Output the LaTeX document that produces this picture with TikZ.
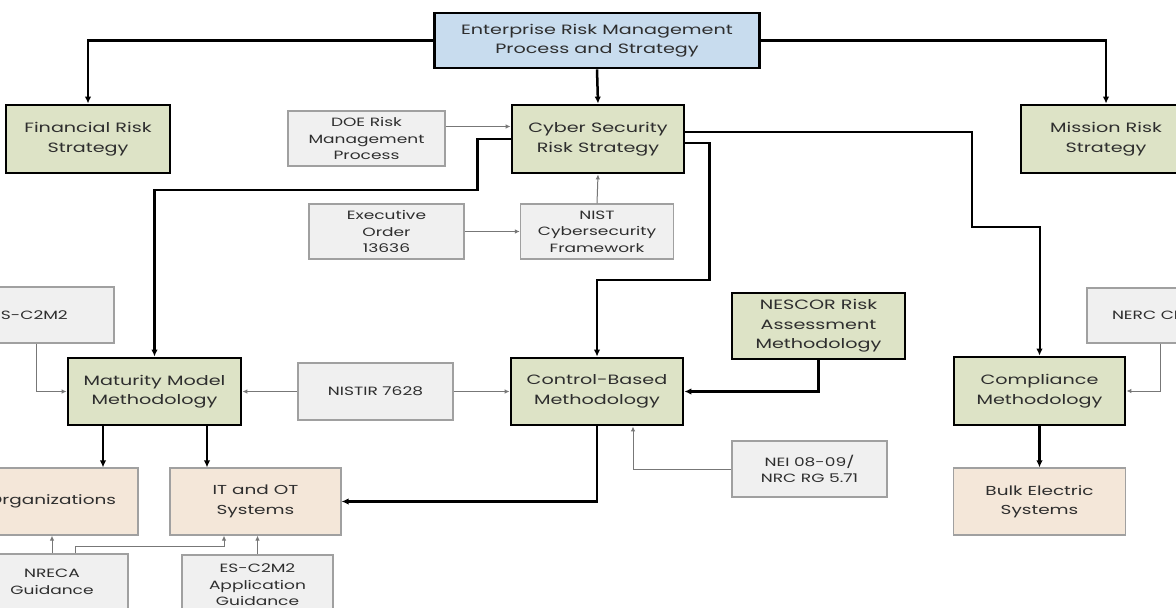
\documentclass[tikz,border=0pt]{standalone}
\usepackage{fontspec}
\setmainfont{Poppins}[FakeStretch=1.42]
\usetikzlibrary{arrows.meta}
\definecolor{bluefill}{HTML}{C8DCEE}
\definecolor{greenfill}{HTML}{DDE3C6}
\definecolor{beigefill}{HTML}{F4E7D9}
\definecolor{greyfill}{HTML}{F0F0F0}
\definecolor{greyline}{HTML}{A0A0A0}
\definecolor{feedline}{HTML}{777777}
\definecolor{txt}{HTML}{2E2E2E}
\begin{document}
\begin{tikzpicture}[x=1pt,y=-1pt,
  every node/.style={text=txt, align=center, inner sep=0pt},
  mainbox/.style={draw=black, line width=2.8pt, fill=greenfill, font=\fontsize{13.5}{19.5}\selectfont},
  topbox/.style={mainbox, fill=bluefill},
  inbox/.style={draw=greyline, line width=1.3pt, fill=greyfill, font=\fontsize{12}{16.5}\selectfont},
  sysbox/.style={draw=greyline, line width=1.2pt, fill=beigefill, font=\fontsize{13}{19.5}\selectfont},
  conn/.style={line width=2.5pt, -{Latex[length=7pt,width=6.5pt]}},
  feed/.style={line width=1pt, draw=feedline, -{Latex[length=5pt,width=4.5pt]}}]
\useasboundingbox (0,0) rectangle (1176,608);
\fill[white] (0,0) rectangle (1176,608);
\clip (0,0) rectangle (1176,608);

% nodes
\node[topbox, minimum width=325, minimum height=55] (top) at (597,40.5) {Enterprise Risk Management\\Process and Strategy};
\node[mainbox, minimum width=164, minimum height=68] (fin) at (88,139) {Financial Risk\\Strategy};
\node[inbox, minimum width=157, minimum height=55] (doe) at (366.5,138.5) {DOE Risk\\Management\\Process};
\node[mainbox, minimum width=172, minimum height=68] (cyber) at (598,139) {Cyber Security\\Risk Strategy};
\node[mainbox, minimum width=170, minimum height=68] (mission) at (1106,139) {Mission Risk\\Strategy};
\node[inbox, minimum width=155, minimum height=55] (exec) at (386.5,231.5) {Executive\\Order\\13636};
\node[inbox, minimum width=153, minimum height=55] (nist) at (597,231.5) {NIST\\Cybersecurity\\Framework};
\node[inbox, minimum width=168, minimum height=56] (esc) at (30,315) {ES-C2M2};
\node[mainbox, minimum width=173, minimum height=66] (nescor) at (818.5,326) {NESCOR Risk\\Assessment\\Methodology};
\node[inbox, minimum width=126, minimum height=55] (nerc) at (1150,315.5) {NERC CIP};
\node[mainbox, minimum width=173, minimum height=67] (mat) at (154.5,391.5) {Maturity Model\\Methodology};
\node[inbox, minimum width=155, minimum height=57] (nistir) at (375.5,391.5) {NISTIR 7628};
\node[mainbox, minimum width=172, minimum height=67] (ctrl) at (597,391.5) {Control-Based\\Methodology};
\node[mainbox, minimum width=171, minimum height=68] (comp) at (1039.5,391) {Compliance\\Methodology};
\node[inbox, minimum width=155, minimum height=56] (nei) at (809.5,469) {NEI 08-09/\\NRC RG 5.71};
\node[sysbox, minimum width=172, minimum height=67] (org) at (52,501.5) {Organizations};
\node[sysbox, minimum width=171, minimum height=67] (it) at (255.5,501.5) {IT and OT\\Systems};
\node[sysbox, minimum width=172, minimum height=67] (bulk) at (1039.5,501.5) {Bulk Electric\\Systems};
\node[inbox, minimum width=152, minimum height=56] (nreca) at (52,582) {NRECA\\Guidance};
\node[inbox, minimum width=151, minimum height=60] (esapp) at (257.5,585) {ES-C2M2\\Application\\Guidance};

% helper coordinates
\coordinate (doeA) at ([yshift=12pt]doe.east);
\coordinate (cybR1) at ([yshift=7pt]cyber.east);
\coordinate (cybR2) at ([yshift=-4pt]cyber.east);
\coordinate (escB) at ([xshift=6pt]esc.south);
\coordinate (nercB) at ([xshift=10pt]nerc.south);
\coordinate (ctrlB) at ([xshift=36pt]ctrl.south);
\coordinate (matL) at ([xshift=-51.5pt]mat.south);
\coordinate (matR) at ([xshift=52.5pt]mat.south);
\coordinate (itB) at ([xshift=-31.5pt]it.south);
\coordinate (nrecaR) at ([xshift=23pt]nreca.north);

% main connectors
\draw[conn] (top.west) -| (fin.north);
\draw[conn] (top.east) -| (mission.north);
\draw[conn] (top.south) -- (cyber.north);
\draw[conn] (cyber.west) -- ++(-33,0) -- ++(0,51) -| (mat.north);
\draw[conn] (cybR2) -- ++(24,0) -- ++(0,137) -| (ctrl.north);
\draw[conn, line width=2pt] (cybR1) -- ++(287,0) -- ++(0,95) -| (comp.north);
\draw[conn] (nescor.south) |- (ctrl.east);
\draw[conn] (ctrl.south) |- (it.east);
\draw[conn] (matL) -- (matL |- org.north);
\draw[conn] (matR) -- (matR |- it.north);
\draw[conn] (comp.south) -- (bulk.north);

% feed connectors
\draw[feed] (doeA) -- (doeA -| cyber.west);
\draw[feed] (exec.east) -- (nist.west);
\draw[feed] (nist.north) -- (cyber.south);
\draw[feed] (escB) |- (mat.west);
\draw[feed] (nistir.west) -- (mat.east);
\draw[feed] (nistir.east) -- (ctrl.west);
\draw[feed] (nercB) |- (comp.east);
\draw[feed] (nei.west) -| (ctrlB);
\draw[feed] (nreca.north) -- (nreca.north |- org.south);
\draw[feed] (nrecaR) -- ++(0,-7) -| (itB);
\draw[feed] (esapp.north) -- (esapp.north |- it.south);
\end{tikzpicture}
\end{document}
